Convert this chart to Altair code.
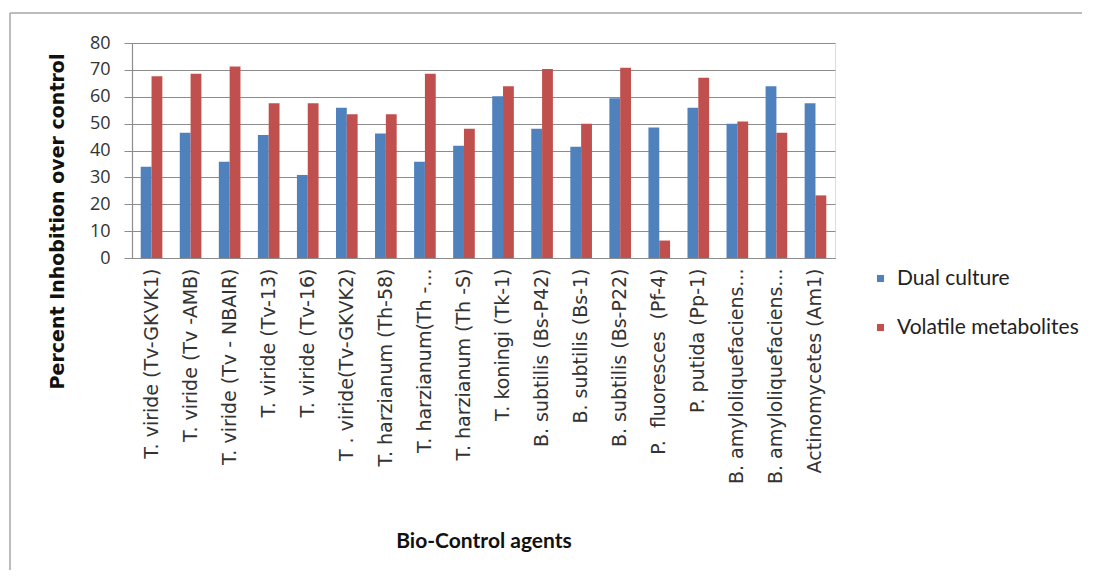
import altair as alt
import pandas as pd

NB = "\u00a0"
categories = [
    "T. viride (Tv-GKVK1)",
    "T. viride (Tv -AMB)",
    "T. viride (Tv - NBAIR)",
    "T. viride (Tv-13)",
    "T. viride (Tv-16)",
    "T . viride(Tv-GKVK2)",
    "T. harzianum (Th-58)",
    "T. harzianum(Th -...",
    "T. harzianum (Th -S)",
    "T. koningi (Tk-1)",
    "B. subtilis (Bs-P42)",
    "B. subtilis (Bs-1)",
    "B. subtilis (Bs-P22)",
    "P." + NB + " fluoresces" + NB + " (Pf-4)",
    "P. putida (Pp-1)",
    "B. amyloliquefaciens...",
    "B. amyloliquefaciens...\u200b",
    "Actinomycetes (Am1)",
]
dual_culture = [34.0, 46.6, 35.8, 45.8, 30.9, 55.9, 46.3, 35.8, 41.8, 60.2,
                48.1, 41.4, 59.4, 48.6, 55.9, 50.0, 63.9, 57.6]
volatile = [67.6, 68.6, 71.3, 57.6, 57.6, 53.5, 53.5, 68.6, 48.1, 63.9,
            70.3, 50.0, 70.8, 6.5, 67.1, 50.8, 46.6, 23.3]
series = ["Dual culture", "Volatile metabolites"]
colors = ["#4F81BD", "#C0504D"]

rows = []
for c, d, v in zip(categories, dual_culture, volatile):
    rows.append({"agent": c, "series": series[0], "value": d})
    rows.append({"agent": c, "series": series[1], "value": v})
df = pd.DataFrame(rows)

bars = alt.Chart(df).mark_bar().encode(
    x=alt.X("agent:N", sort=categories,
            scale=alt.Scale(paddingInner=0.446, paddingOuter=0.223),
            axis=alt.Axis(title="Bio-Control agents", labelAngle=-90,
                          labelAlign="right", labelBaseline="middle",
                          labelFont="DejaVu Sans", labelFontSize=19,
                          labelColor="#333", labelPadding=10, ticks=False,
                          domainColor="#8c8c8c", domainWidth=1.2,
                          titleFont="Lato", titleFontSize=21,
                          titleFontWeight="bold", titleColor="#111",
                          titleY=283, titleBaseline="middle",
                          labelLimit=400)),
    xOffset=alt.XOffset("series:N", sort=series),
    y=alt.Y("value:Q", scale=alt.Scale(domain=[0, 80], nice=False),
            axis=alt.Axis(title="Percent Inhobition over control",
                          values=[0, 10, 20, 30, 40, 50, 60, 70, 80],
                          labelFont="Open Sans", labelFontSize=18,
                          labelColor="#333", labelPadding=14,
                          tickSize=8, tickColor="#8c8c8c",
                          domainColor="#8c8c8c", domainWidth=1.2,
                          gridColor="#8c8c8c", gridWidth=1.2,
                          titleFont="DejaVu Sans", titleFontSize=19,
                          titleFontWeight="bold", titleColor="#111",
                          titleX=-75, titleY=178, titleAngle=270,
                          titleBaseline="middle", titleAlign="center")),
    color=alt.Color("series:N", sort=series,
                    scale=alt.Scale(domain=series, range=colors),
                    legend=alt.Legend(title=None, orient="none",
                                      legendX=738, legendY=225,
                                      symbolType="square", symbolSize=50,
                                      symbolStrokeWidth=0,
                                      labelFont="Lato", labelFontSize=21,
                                      labelColor="#222", labelOffset=6,
                                      labelLimit=400,
                                      rowPadding=27, padding=0)),
)

frame_df = pd.DataFrame({"k": [0]})
top_line = alt.Chart(frame_df).mark_rule(color="#a6a6a6", strokeWidth=1.5).encode(
    x=alt.value(-122), x2=alt.value(950), y=alt.value(-30))
left_line = alt.Chart(frame_df).mark_rule(color="#a6a6a6", strokeWidth=1.5).encode(
    x=alt.value(-122), y=alt.value(-30), y2=alt.value(530))

chart = alt.layer(top_line, left_line, bars).properties(
    width=703, height=215,
    padding={"left": 124, "top": 35, "right": 256, "bottom": 312},
    autosize=alt.AutoSizeParams(type="none"),
).configure_view(stroke=None).configure(background="white")

chart.save("out.html", embed_options={"renderer": "svg", "actions": False})
